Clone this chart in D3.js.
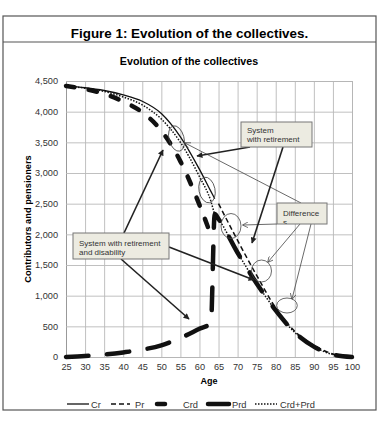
<!DOCTYPE html>
<html>
<head>
<meta charset="utf-8">
<script src="https://cdn.jsdelivr.net/npm/d3@7"></script>
<style>
  body { margin: 0; background: #fff; }
  text { font-family: "Liberation Sans", Arial, sans-serif; }
</style>
</head>
<body>
<svg width="379" height="422"></svg>
<script>
  // ages on the x axis (null = not plotted)
  var ages   = [25, 30, 35, 40, 45, 50, 55, 60, 63, 64, 65, 70, 75, 80, 85, 90, 95, 100];
  var cr     = [4420, 4390, 4345, 4275, 4170, 3970, 3590, 3060, 2700, 2580, null, null, null, null, null, null, null, null];
  var pr     = [null, null, null, null, null, null, null, null, null, null, 2500, 1900, 1330, 800, 420, 190, 50, 0];
  var crd    = [4420, 4368, 4290, 4165, 3990, 3690, 3190, 2480, 1990, null, null, null, null, null, null, null, null, null];
  var prd    = [0, 15, 40, 75, 120, 190, 310, 460, 550, 2330, 2250, 1700, 1200, 760, 400, 170, 40, 0];
  var crdPrd = [4420, 4383, 4330, 4240, 4110, 3880, 3500, 2940, 2540, 2330, 2250, 1700, 1200, 760, 400, 170, 40, 0];

  var seriesNames = ["Cr", "Pr", "Crd", "Prd", "Crd+Prd"];
  var xTicks = d3.range(25, 101, 5);
  var yTicks = d3.range(0, 4501, 500);

  var svg = d3.select("svg");

  var x = d3.scaleLinear().domain([25, 100]).range([66, 352]),
      y = d3.scaleLinear().domain([0, 4500]).range([357, 81]);

  // outer frame + titles
  svg.append("rect")
      .attr("x", 3).attr("y", 16).attr("width", 373).attr("height", 394)
      .attr("fill", "#fff").attr("stroke", "#555").attr("stroke-width", 1.2);
  svg.append("line")
      .attr("x1", 3).attr("x2", 376).attr("y1", 42).attr("y2", 42)
      .attr("stroke", "#555").attr("stroke-width", 1.2);
  svg.append("text")
      .attr("x", 189.5).attr("y", 38)
      .attr("text-anchor", "middle")
      .style("font-size", "13.4px").style("font-weight", "bold")
      .text("Figure 1: Evolution of the collectives.");
  svg.append("text")
      .attr("x", 189).attr("y", 65)
      .attr("text-anchor", "middle")
      .style("font-size", "10.7px").style("font-weight", "bold")
      .text("Evolution of the collectives");

  // axes with gridlines
  var xAxis = svg.append("g")
      .attr("transform", "translate(0,357)")
      .call(d3.axisBottom(x).tickValues(xTicks).tickSize(-276).tickPadding(6.5));
  var yAxis = svg.append("g")
      .attr("transform", "translate(66,0)")
      .call(d3.axisLeft(y).tickValues(yTicks).tickSize(-286).tickPadding(8).tickFormat(d3.format(",")));

  [xAxis, yAxis].forEach(function(a) {
    a.select(".domain").attr("stroke", "#999");
    a.selectAll(".tick line").attr("stroke", "#b9b9b9").attr("stroke-width", 0.9);
    a.selectAll(".tick text")
        .attr("fill", "#333")
        .style("font-size", "9.2px")
        .style("font-family", "'Liberation Sans', Arial, sans-serif");
  });

  svg.append("text")
      .attr("x", 209).attr("y", 384)
      .attr("text-anchor", "middle")
      .style("font-size", "9px").style("font-weight", "bold")
      .text("Age");
  svg.append("text")
      .attr("transform", "translate(31,219) rotate(-90)")
      .attr("text-anchor", "middle")
      .style("font-size", "9.3px").style("font-weight", "bold")
      .text("Contributors and pensioners");

  // series
  var styles = {
    "Cr":      {width: 1.3, dash: null,        cap: "butt"},
    "Pr":      {width: 1.5, dash: "5,3",       cap: "butt"},
    "Crd":     {width: 4.5, dash: "8.5,14.5",  cap: "round"},
    "Prd":     {width: 4.5, dash: "22.5,18.5", cap: "round"},
    "Crd+Prd": {width: 1.5, dash: "1.5,1.5",   cap: "butt"}
  };
  var values = [cr, pr, crd, prd, crdPrd];

  var series = seriesNames.map(function(name, i) {
    return {
      id: name,
      values: ages.map(function(a, j) { return {age: a, v: values[i][j]}; })
    };
  });

  var line = d3.line()
      .defined(function(d) { return d.v != null; })
      .curve(d3.curveMonotoneX)
      .x(function(d) { return x(d.age); })
      .y(function(d) { return y(d.v); });

  svg.selectAll(".series")
      .data(series)
      .enter().append("path")
      .attr("class", "series")
      .attr("fill", "none")
      .attr("stroke", "#111")
      .attr("stroke-width", function(d) { return styles[d.id].width; })
      .attr("stroke-dasharray", function(d) { return styles[d.id].dash; })
      .attr("stroke-linecap", function(d) { return styles[d.id].cap; })
      .attr("d", function(d) { return line(d.values); });

  // legend
  var legendPos = {
    "Cr":      {x1: 67,  x2: 89,  tx: 91},
    "Pr":      {x1: 111, x2: 130, tx: 135},
    "Crd":     {x1: 157, x2: 165, tx: 183},
    "Prd":     {x1: 208, x2: 229, tx: 232},
    "Crd+Prd": {x1: 255, x2: 277, tx: 280}
  };
  var legend = svg.selectAll(".legend")
      .data(seriesNames)
      .enter().append("g")
      .attr("class", "legend");
  legend.append("line")
      .attr("x1", function(d) { return legendPos[d].x1; })
      .attr("x2", function(d) { return legendPos[d].x2; })
      .attr("y1", 404).attr("y2", 404)
      .attr("stroke", "#111")
      .attr("stroke-width", function(d) { return styles[d].width; })
      .attr("stroke-linecap", function(d) { return styles[d].cap; })
      .attr("stroke-dasharray", function(d) { return d == "Crd" || d == "Prd" ? null : styles[d].dash; });
  legend.append("text")
      .attr("x", function(d) { return legendPos[d].tx; })
      .attr("y", 407.5)
      .attr("fill", "#333")
      .style("font-size", "9.3px")
      .text(function(d) { return d; });

  // annotations
  var defs = svg.append("defs");
  defs.append("marker")
      .attr("id", "head")
      .attr("viewBox", "0 0 10 10").attr("refX", 9).attr("refY", 5)
      .attr("markerWidth", 7).attr("markerHeight", 6)
      .attr("markerUnits", "userSpaceOnUse")
      .attr("orient", "auto")
      .append("path").attr("d", "M0,0L10,5L0,10z").attr("fill", "#222");
  defs.append("marker")
      .attr("id", "open")
      .attr("viewBox", "0 0 10 10").attr("refX", 9).attr("refY", 5)
      .attr("markerWidth", 6).attr("markerHeight", 6)
      .attr("markerUnits", "userSpaceOnUse")
      .attr("orient", "auto")
      .append("path").attr("d", "M0,0L10,5L0,10").attr("fill", "none").attr("stroke", "#444").attr("stroke-width", 1.2);
  defs.append("clipPath").attr("id", "clipDiff")
      .append("rect").attr("x", 277).attr("y", 203).attr("width", 50).attr("height", 21);

  var ellipses = [
    {cx: 176.5, cy: 138.5, rx: 7.5, ry: 13, r: -15},
    {cx: 207, cy: 190, rx: 8, ry: 13, r: -12},
    {cx: 231, cy: 226, rx: 10, ry: 12.5, r: 0},
    {cx: 261.5, cy: 271, rx: 10, ry: 11, r: 0},
    {cx: 287, cy: 305.5, rx: 10.3, ry: 7.5, r: 0}
  ];
  svg.selectAll(".ell")
      .data(ellipses)
      .enter().append("ellipse")
      .attr("class", "ell")
      .attr("transform", function(d) { return "translate(" + d.cx + "," + d.cy + ") rotate(" + d.r + ")"; })
      .attr("rx", function(d) { return d.rx; })
      .attr("ry", function(d) { return d.ry; })
      .attr("fill", "none").attr("stroke", "#444").attr("stroke-width", 0.8);

  var thin = [[301, 203, 185, 143], [277, 224, 243, 225], [300, 224, 268, 262], [311, 224, 292, 299]];
  svg.selectAll(".thin")
      .data(thin)
      .enter().append("line")
      .attr("class", "thin")
      .attr("x1", function(d) { return d[0]; }).attr("y1", function(d) { return d[1]; })
      .attr("x2", function(d) { return d[2]; }).attr("y2", function(d) { return d[3]; })
      .attr("stroke", "#444").attr("stroke-width", 0.8)
      .attr("marker-end", "url(#open)");

  var thick = [[124, 233, 163, 150], [121, 259, 189, 319], [169, 247, 254, 280], [250, 147, 197, 156], [283, 147, 252, 243]];
  svg.selectAll(".thick")
      .data(thick)
      .enter().append("line")
      .attr("class", "thick")
      .attr("x1", function(d) { return d[0]; }).attr("y1", function(d) { return d[1]; })
      .attr("x2", function(d) { return d[2]; }).attr("y2", function(d) { return d[3]; })
      .attr("stroke", "#222").attr("stroke-width", 1.6)
      .attr("marker-end", "url(#head)");

  var boxes = [
    {x: 73, y: 233, w: 96, h: 26, lines: ["System with retirement", "and disability"], tx: 79, ty: 246},
    {x: 241, y: 122, w: 71, h: 25, lines: ["System", "with retirement"], tx: 247, ty: 133},
    {x: 277, y: 203, w: 50, h: 21, lines: ["Difference", "s"], tx: 283, ty: 216}
  ];
  var box = svg.selectAll(".box")
      .data(boxes)
      .enter().append("g")
      .attr("class", "box");
  box.append("rect")
      .attr("x", function(d) { return d.x; }).attr("y", function(d) { return d.y; })
      .attr("width", function(d) { return d.w; }).attr("height", function(d) { return d.h; })
      .attr("fill", "#ecebe1").attr("stroke", "#777").attr("stroke-width", 1);
  box.append("text")
      .attr("clip-path", function(d, i) { return i == 2 ? "url(#clipDiff)" : null; })
      .attr("fill", "#333")
      .style("font-size", "8px")
      .selectAll("tspan")
      .data(function(d) { return d.lines.map(function(l, k) { return {t: l, x: d.tx, y: d.ty + k * 9}; }); })
      .enter().append("tspan")
      .attr("x", function(d) { return d.x; })
      .attr("y", function(d) { return d.y; })
      .text(function(d) { return d.t; });
</script>
</body>
</html>
